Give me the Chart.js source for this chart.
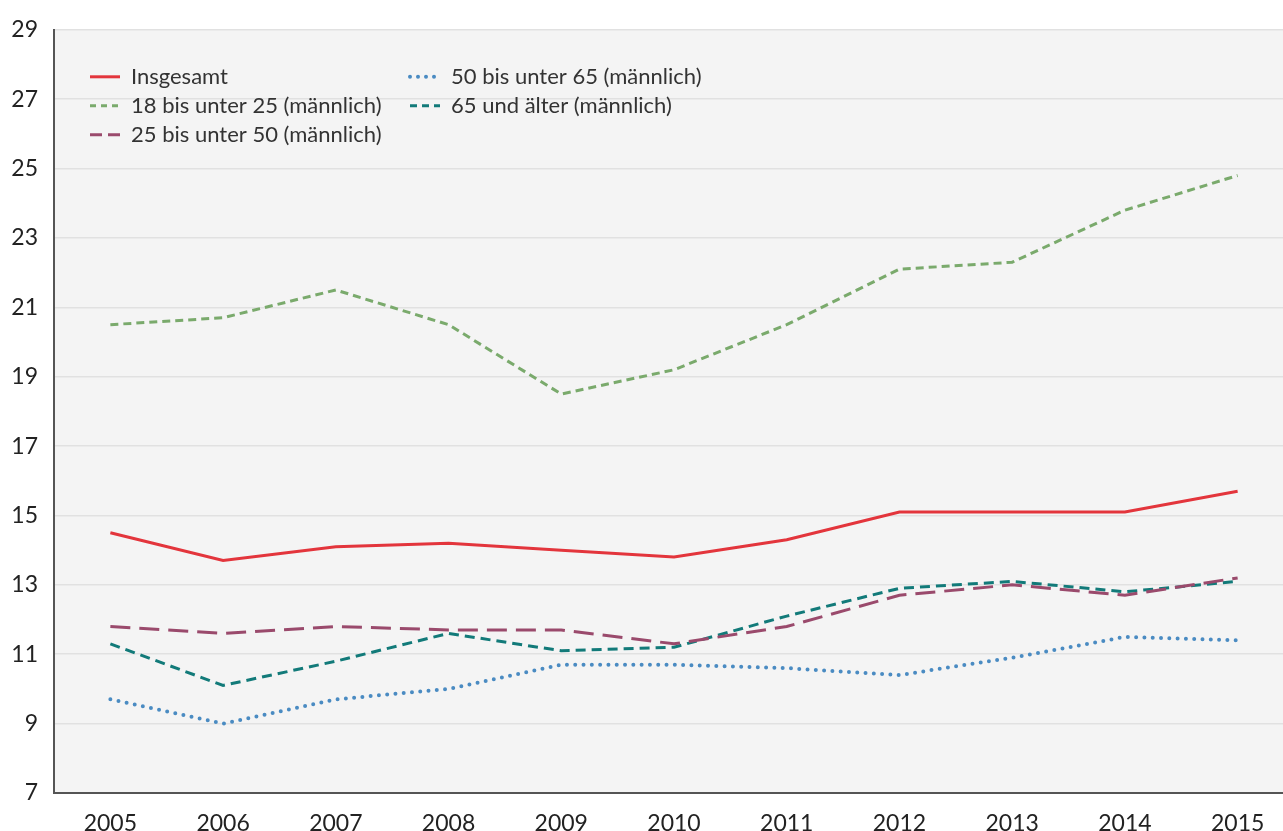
<!DOCTYPE html>
<html lang="de">
<head>
<meta charset="utf-8">
<title>Chart</title>
<script src="https://cdn.jsdelivr.net/npm/chart.js@4/dist/chart.umd.min.js"></script>
<style>
  html, body { margin: 0; padding: 0; background: #fff; overflow: hidden; }
  #wrap { width: 1294px; height: 831px; }
</style>
</head>
<body>
<div id="wrap"><canvas id="chart" width="1294" height="831"></canvas></div>
<script>
const YEARS = ["2005", "2006", "2007", "2008", "2009", "2010", "2011", "2012", "2013", "2014", "2015"]

const INSGESAMT   = [14.5, 13.7, 14.1, 14.2, 14.0, 13.8, 14.3, 15.1, 15.1, 15.1, 15.7]
const M_18_25     = [20.5, 20.7, 21.5, 20.5, 18.5, 19.2, 20.5, 22.1, 22.3, 23.8, 24.8]
const M_25_50     = [11.8, 11.6, 11.8, 11.7, 11.7, 11.3, 11.8, 12.7, 13.0, 12.7, 13.2]
const M_50_65     = [9.7, 9.0, 9.7, 10.0, 10.7, 10.7, 10.6, 10.4, 10.9, 11.5, 11.4]
const M_65_PLUS   = [11.3, 10.1, 10.8, 11.6, 11.1, 11.2, 12.1, 12.9, 13.1, 12.8, 13.1]

const Y_MIN = 7
const Y_MAX = 29
const Y_STEP = 2

const FONT = "Lato, 'Open Sans', sans-serif"

// legend drawn inside the plot, two columns
const insideLegend = {
  id: "insideLegend",
  afterDatasetsDraw(chart) {
    const ctx = chart.ctx
    const left = chart.chartArea.left
    const top = chart.chartArea.top
    const cols = [[0, 1, 2], [3, 4]]
    const colX = [left + 36, left + 356]
    ctx.save()
    ctx.font = `22px ${FONT}`
    ctx.fillStyle = "#333"
    ctx.textBaseline = "middle"
    cols.forEach((idx, c) => {
      idx.forEach((di, r) => {
        const ds = chart.data.datasets[di]
        const x = colX[c]
        const y = chart.scales.y.getPixelForValue(Y_MAX) + 47 + r * 29
        ctx.beginPath()
        ctx.strokeStyle = ds.borderColor
        ctx.lineWidth = ds.borderWidth
        ctx.lineCap = ds.borderCapStyle || "butt"
        ctx.setLineDash(ds.legendDash || [])
        ctx.moveTo(x, y)
        ctx.lineTo(x + 30, y)
        ctx.stroke()
        ctx.setLineDash([])
        ctx.fillText(ds.label, x + 41, y)
      })
    })
    ctx.restore()
  }
}

const plotBackground = {
  id: "plotBackground",
  beforeDraw(chart) {
    const { ctx, chartArea: a } = chart
    ctx.save()
    ctx.fillStyle = "#F4F4F4"
    ctx.fillRect(a.left, a.top, a.right - a.left, a.bottom - a.top)
    ctx.restore()
  }
}

new Chart(document.getElementById("chart"), {
  type: "line",
  data: {
    labels: YEARS,
    datasets: [
      { label: "Insgesamt", data: INSGESAMT, borderColor: "#E3353C", borderWidth: 3 },
      { label: "18 bis unter 25 (männlich)", data: M_18_25, borderColor: "#7AAA6C", borderWidth: 3,
        borderDash: [8, 5], legendDash: [6, 5] },
      { label: "25 bis unter 50 (männlich)", data: M_25_50, borderColor: "#9A4A6C", borderWidth: 3,
        borderDash: [20, 9], legendDash: [12, 6] },
      { label: "50 bis unter 65 (männlich)", data: M_50_65, borderColor: "#4A8BC2", borderWidth: 4,
        borderDash: [0, 8.3], borderCapStyle: "round", legendDash: [0, 8] },
      { label: "65 und älter (männlich)", data: M_65_PLUS, borderColor: "#127A79", borderWidth: 3,
        borderDash: [10, 6], legendDash: [7, 5] }
    ]
  },
  options: {
    responsive: false,
    animation: false,
    events: [],
    layout: { padding: { top: 12, right: 0, left: 0, bottom: 0 } },
    elements: {
      point: { radius: 0 },
      line: { tension: 0, fill: false }
    },
    plugins: {
      legend: { display: false },
      tooltip: { enabled: false }
    },
    scales: {
      x: {
        offset: true,
        grid: { display: false },
        border: { display: true, color: "#555", width: 2 },
        ticks: { color: "#222", font: { family: FONT, size: 23 }, padding: 9, maxRotation: 0 },
        afterFit: scale => { scale.height = 38 }
      },
      y: {
        min: Y_MIN,
        max: Y_MAX,
        grid: { color: "#E1E1E1", lineWidth: 1.5, drawTicks: false },
        border: { display: true, color: "#555", width: 2 },
        ticks: { stepSize: Y_STEP, color: "#222", font: { family: FONT, size: 23 }, padding: 16 },
        afterFit: scale => { scale.width = 54 }
      }
    }
  },
  plugins: [plotBackground, insideLegend]
})
</script>
</body>
</html>
